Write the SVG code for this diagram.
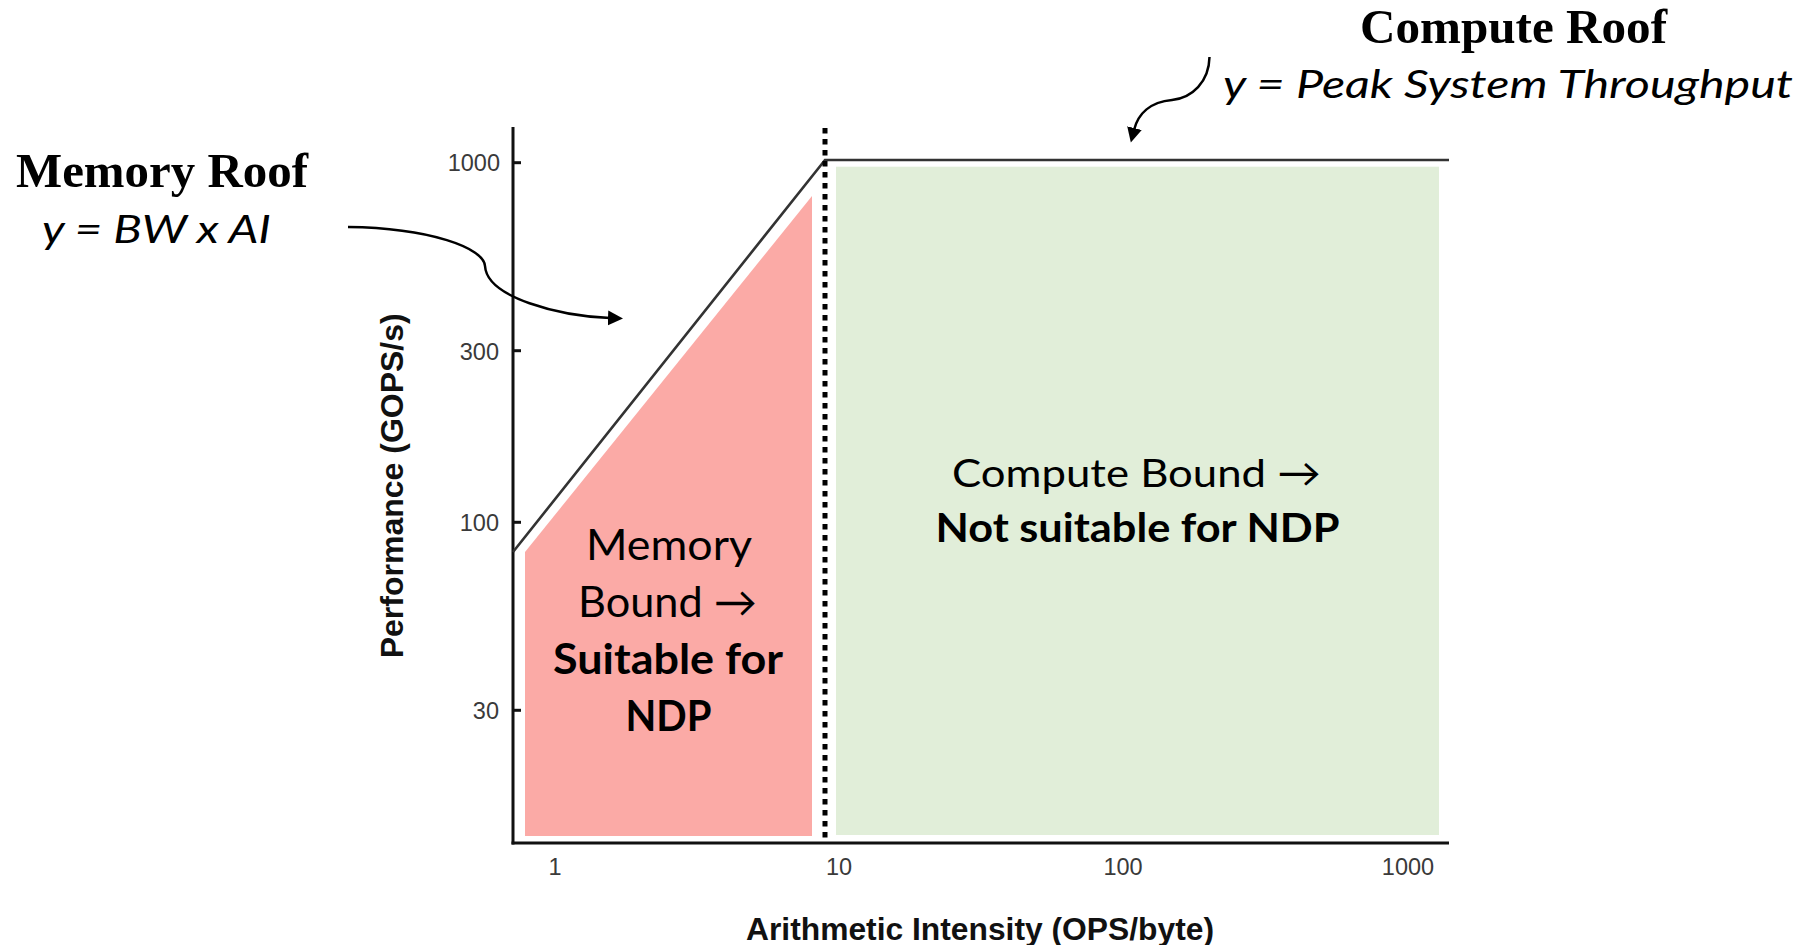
<svg xmlns="http://www.w3.org/2000/svg" width="1816" height="945" viewBox="0 0 1816 945">
<style>
.tick{font-family:"Liberation Sans",Arial,sans-serif;font-size:23.5px;fill:#3a3a3a}
.axt{font-family:"Liberation Sans",Arial,sans-serif;font-size:32px;font-weight:bold;fill:#111}
.ttl{font-family:"Liberation Serif","Times New Roman",serif;font-size:49px;font-weight:bold;fill:#000}
.eq{font-family:Lato,"Open Sans",sans-serif;font-size:38px;font-style:italic;fill:#000}
.reg{font-family:Lato,"Open Sans",sans-serif;fill:#000}
.axis{stroke:#111;stroke-width:3;fill:none}
.roof{stroke:#333;stroke-width:2.6;fill:none}
.conn{stroke:#000;stroke-width:2.5;fill:none}
</style>
<defs>
<marker id="ah" markerUnits="userSpaceOnUse" viewBox="0 0 16 16" markerWidth="16" markerHeight="16" refX="2" refY="8" orient="auto">
<path d="M0,0.5 L15,8 L0,15.5 Z" fill="#000"/>
</marker>
</defs>
<rect width="1816" height="945" fill="#fff"/>
<g id="memory-bound-region">
<polygon points="525,552 812,196 812,836 525,836" fill="#FBAAA6"/>
<text class="reg" font-size="42" x="586" y="560" textLength="166" lengthAdjust="spacingAndGlyphs">Memory</text>
<text class="reg" font-size="42" x="578" y="617" textLength="179" lengthAdjust="spacingAndGlyphs">Bound →</text>
<text class="reg" font-size="42" font-weight="bold" x="553" y="674" textLength="230" lengthAdjust="spacingAndGlyphs">Suitable for</text>
<text class="reg" font-size="42" font-weight="bold" x="625.5" y="731" textLength="86" lengthAdjust="spacingAndGlyphs">NDP</text>
</g>
<g id="compute-bound-region">
<rect x="836" y="166.7" width="603" height="668.3" fill="#E1EED9"/>
<text class="reg" font-size="39.5" x="952" y="486.7" textLength="369" lengthAdjust="spacingAndGlyphs">Compute Bound →</text>
<text class="reg" font-size="39.5" font-weight="bold" x="935.5" y="541.7" textLength="404" lengthAdjust="spacingAndGlyphs">Not suitable for NDP</text>
</g>
<g id="axes">
<line class="axis" x1="513" y1="127" x2="513" y2="844.5"/>
<line class="axis" x1="511.5" y1="843" x2="1449" y2="843"/>
<g stroke="#111" stroke-width="3">
<line x1="513" y1="162.7" x2="521" y2="162.7"/>
<line x1="513" y1="350.7" x2="521" y2="350.7"/>
<line x1="513" y1="522.3" x2="521" y2="522.3"/>
<line x1="513" y1="710.3" x2="521" y2="710.3"/>
</g>
<text class="tick" x="500" y="171" text-anchor="end">1000</text>
<text class="tick" x="499" y="359.5" text-anchor="end">300</text>
<text class="tick" x="499" y="531" text-anchor="end">100</text>
<text class="tick" x="499" y="719" text-anchor="end">30</text>
<text class="tick" x="555" y="875" text-anchor="middle">1</text>
<text class="tick" x="839" y="875" text-anchor="middle">10</text>
<text class="tick" x="1123" y="875" text-anchor="middle">100</text>
<text class="tick" x="1408" y="875" text-anchor="middle">1000</text>
<text class="axt" x="980" y="940" text-anchor="middle" textLength="468" lengthAdjust="spacingAndGlyphs">Arithmetic Intensity (OPS/byte)</text>
<text class="axt" transform="translate(402.5,485.8) rotate(-90)" x="0" y="0" text-anchor="middle" textLength="345" lengthAdjust="spacingAndGlyphs">Performance (GOPS/s)</text>
</g>
<g id="roofline">
<polyline class="roof" points="513,552 825,160 1449,160"/>
<line x1="825" y1="128" x2="825" y2="843" stroke="#000" stroke-width="5" stroke-dasharray="5.5 5.5"/>
</g>
<g id="memory-roof-label">
<text class="ttl" x="16" y="186.7" textLength="292" lengthAdjust="spacingAndGlyphs">Memory Roof</text>
<text class="eq" x="42" y="243.3" textLength="229" lengthAdjust="spacingAndGlyphs">y = BW x AI</text>
</g>
<g id="compute-roof-label">
<text class="ttl" x="1360" y="42.7" textLength="307" lengthAdjust="spacingAndGlyphs">Compute Roof</text>
<text class="eq" x="1223" y="98.3" textLength="570" lengthAdjust="spacingAndGlyphs">y = Peak System Throughput</text>
</g>
<g id="connectors">
<path class="conn" d="M348,227 C430,228 484,248 485,266 C487,298 560,316 610,318" marker-end="url(#ah)"/>
<path class="conn" d="M1209.5,57 C1209,82 1192,98 1172,100 C1150,102 1138,114 1134,130" marker-end="url(#ah)"/>
</g>
</svg>
